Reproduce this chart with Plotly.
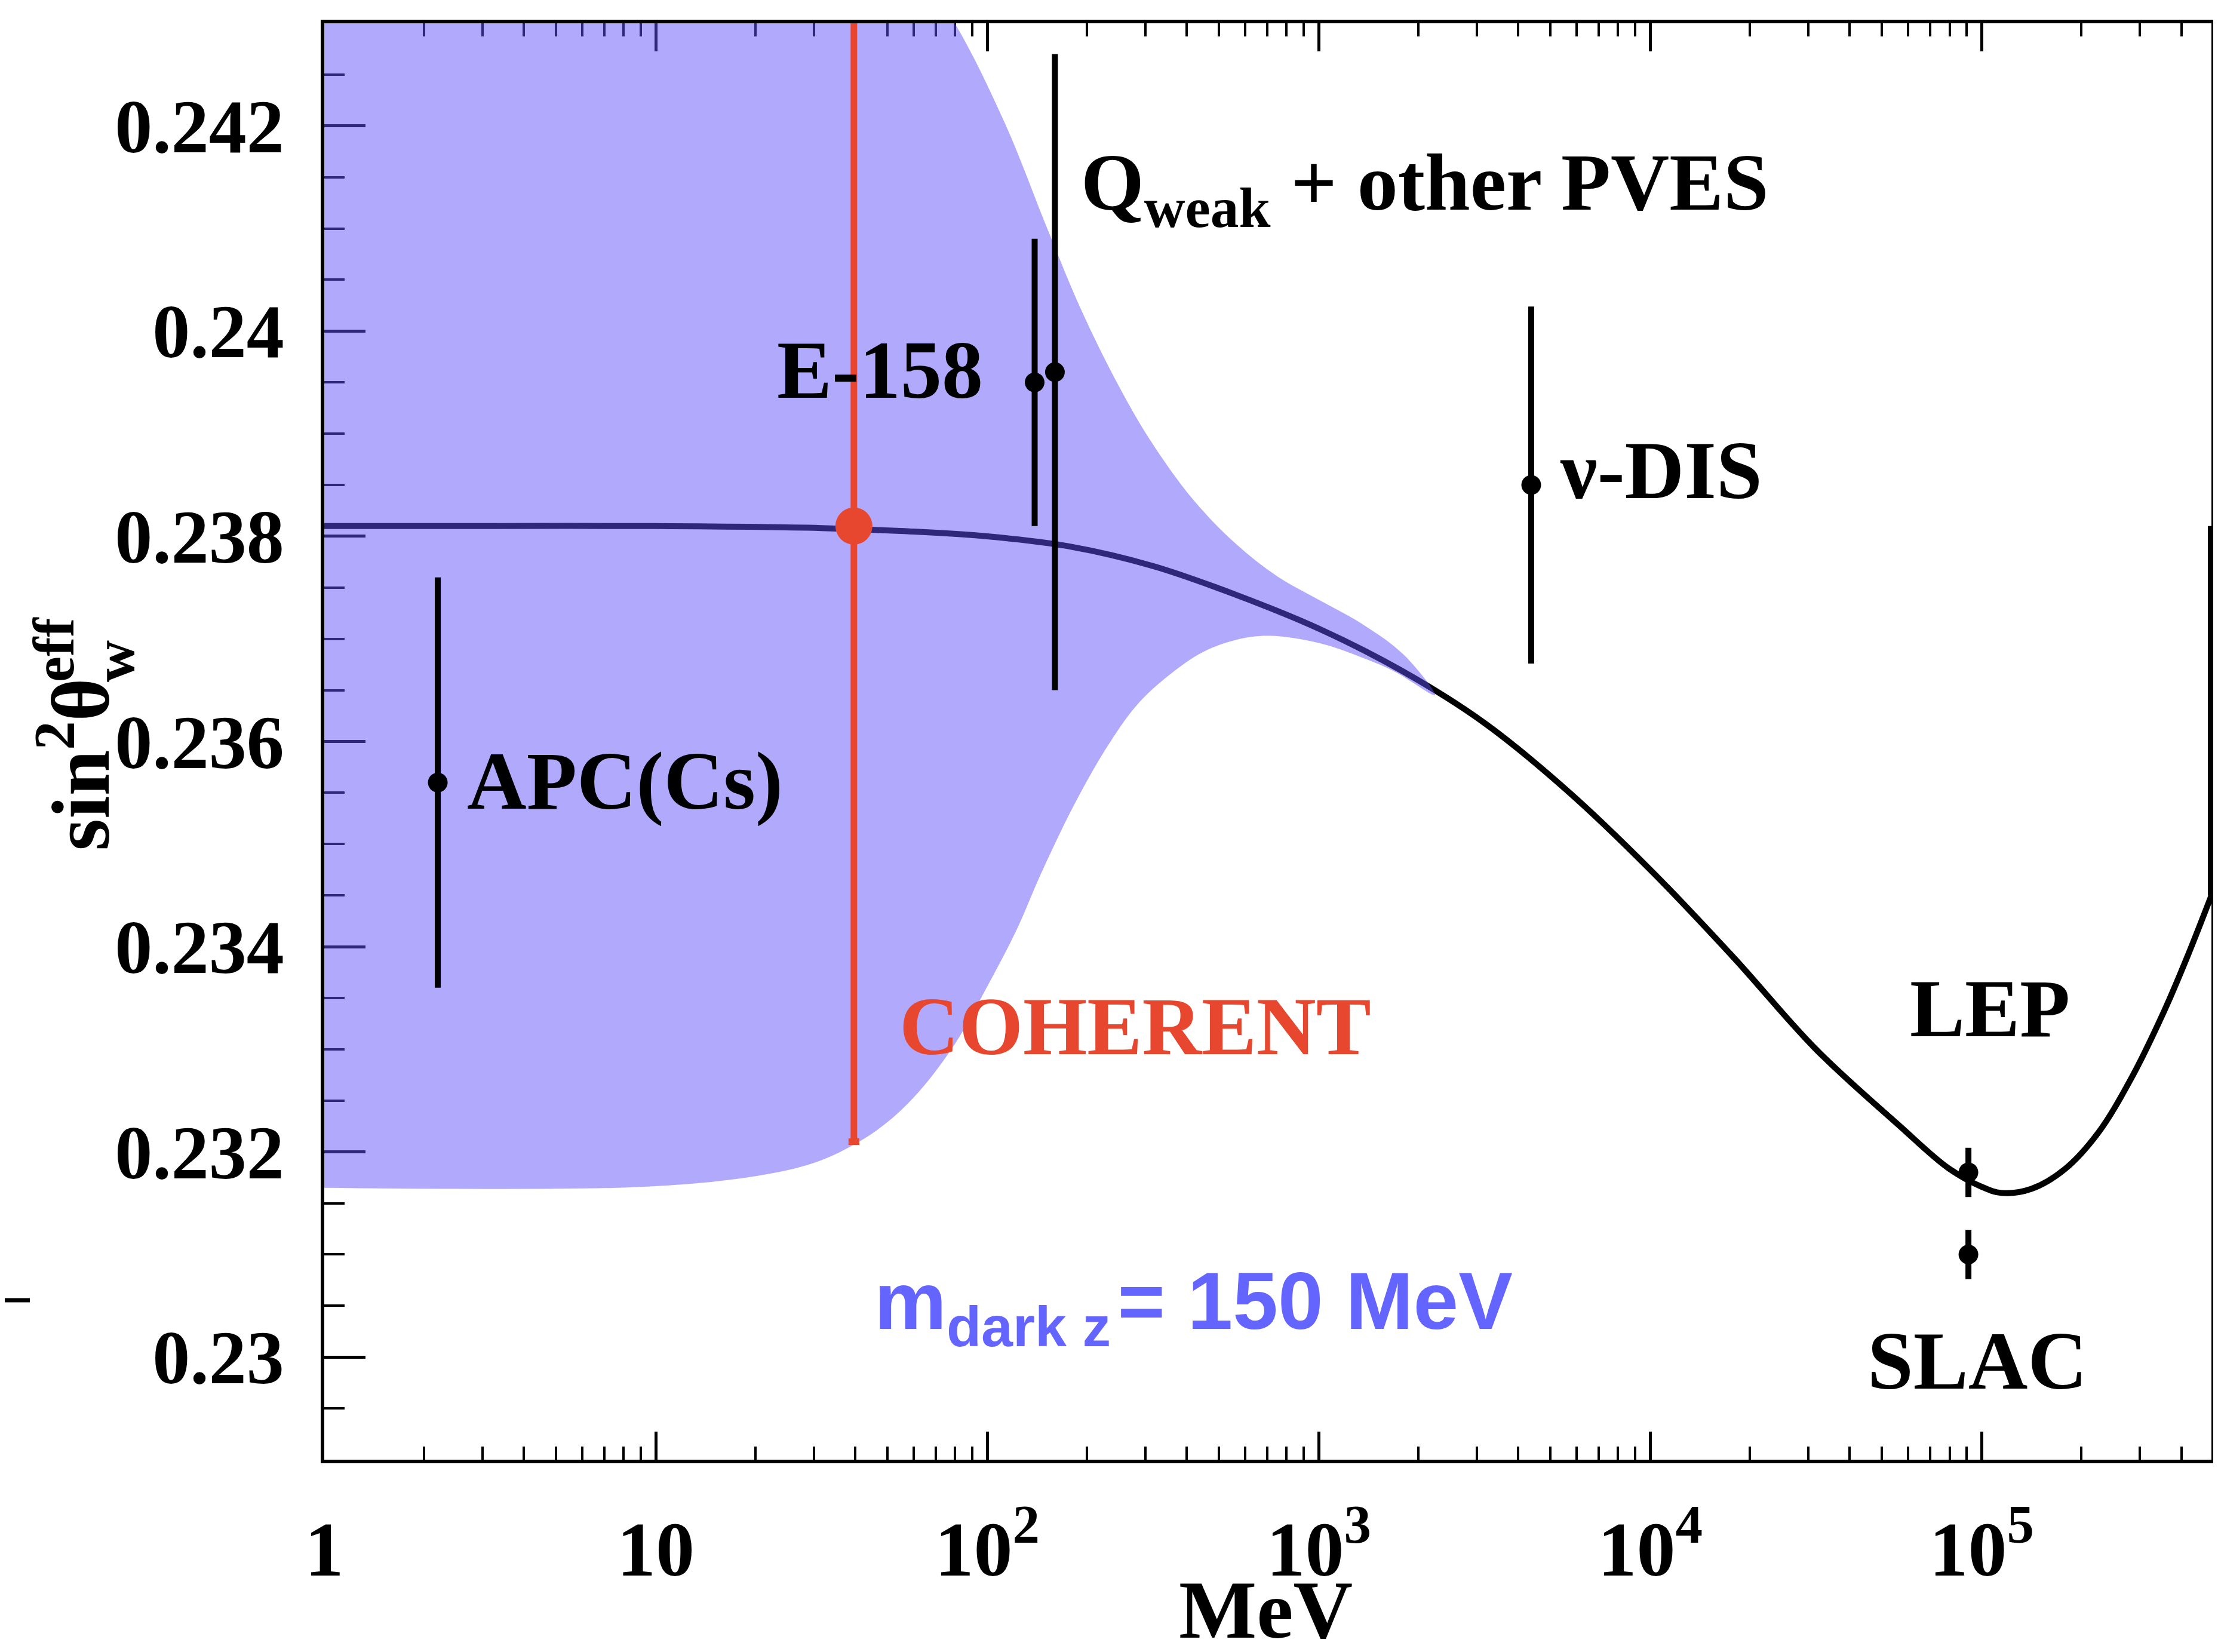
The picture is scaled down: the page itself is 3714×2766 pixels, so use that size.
import plotly.graph_objects as go

# ---------------- canvas / frame ----------------
W, H = 3714, 2766
ML, MR, MT, MB = 535, 19, 31, 330
PW, PH = W - ML - MR, H - MT - MB

X_RANGE_LOG = [0.0, 5.693]
Y_RANGE = [0.229, 0.243]

# ---------------- data ----------------
# Standard-model running of sin^2(theta_W) (x = log10(Q / MeV))
curve_log_q = [0.0, 0.5, 1.0, 1.5, 1.75, 2.0, 2.25, 2.5, 2.75, 3.0, 3.25, 3.5, 3.75, 4.0,
               4.25, 4.5, 4.75, 4.9, 5.0, 5.06, 5.15, 5.25, 5.35, 5.45, 5.55, 5.62, 5.693]
curve_sin2 = [0.2381, 0.2381, 0.2381, 0.23808, 0.23805, 0.238, 0.2379, 0.23771, 0.23743,
              0.2371, 0.23669, 0.23618, 0.23552, 0.23475, 0.2339, 0.233, 0.23226, 0.23184,
              0.23166, 0.2316, 0.23164, 0.23183, 0.23218, 0.23271, 0.23337, 0.2339, 0.2345]
# part of the curve pressed against the right frame (clipped continuation)
edge_sin2 = [0.2345, 0.2381]

# dark-Z (m = 150 MeV) band
band_upper_log_q = [0.0, 1.0, 1.5, 1.75, 1.902, 2.054, 2.181, 2.283, 2.396, 2.497, 2.623,
                    2.749, 2.875, 3.001, 3.129, 3.255, 3.35]
band_upper = [0.2446, 0.2446, 0.2444, 0.2437, 0.2430, 0.24202, 0.241, 0.24021, 0.23947,
              0.23891, 0.23835, 0.23793, 0.23761, 0.23738, 0.23715, 0.23685, 0.23647]
band_lower_log_q = [0.0, 0.966, 1.295, 1.475, 1.598, 1.695, 1.792, 1.902, 1.998, 2.088,
                    2.162, 2.26, 2.358, 2.45, 2.55, 2.65, 2.75, 2.85, 3.0, 3.129, 3.23, 3.35]
band_lower = [0.23165, 0.23166, 0.23176, 0.23189, 0.23207, 0.23228, 0.23258, 0.23305,
              0.2336, 0.23416, 0.23471, 0.23537, 0.23593, 0.23635, 0.23665, 0.23687, 0.23699,
              0.23703, 0.23696, 0.23682, 0.23668, 0.23645]

# measurements
exp_names = ["APC(Cs)", "E-158", "Qweak", "nu-DIS", "LEP", "SLAC"]
exp_q = [2.2, 139, 160, 4375, 91188, 91188]
exp_sin2 = [0.2356, 0.2395, 0.2396, 0.2385, 0.2318, 0.2310]
exp_err = [0.0020, 0.0014, 0.0031, 0.00174, 0.00024, 0.00024]

coh_q = [39.6]
coh_sin2 = [0.2381]
coh_err = [0.0060]

x_tick_vals = [1, 10, 100, 1000, 10000, 100000]
x_tick_text = ["1", "10", "10<sup>2</sup>", "10<sup>3</sup>", "10<sup>4</sup>", "10<sup>5</sup>"]
y_tick_vals = [0.23, 0.232, 0.234, 0.236, 0.238, 0.24, 0.242]
y_tick_text = ["0.23", "0.232", "0.234", "0.236", "0.238", "0.24", "0.242"]

# ---------------- style ----------------
SERIF = "Liberation Serif"
SANS = "Liberation Sans"
RED = "#E8472F"
BLUE_TXT = "#6464FF"
BAND = "rgba(94,80,249,0.49)"


def px(x):
    return (x - ML) / PW


def py(y):
    return (MT + PH - y) / PH


fig = go.Figure()

# SM curve (under the band)
fig.add_trace(go.Scatter(x=[10 ** v for v in curve_log_q], y=curve_sin2, mode="lines",
                         line=dict(color="black", width=10, shape="spline", smoothing=1.0),
                         hoverinfo="skip", showlegend=False))
fig.add_trace(go.Scatter(x=[10 ** X_RANGE_LOG[1]] * 2, y=edge_sin2, mode="lines",
                         line=dict(color="black", width=12), hoverinfo="skip", showlegend=False))

# band
bx = [10 ** v for v in band_upper_log_q] + [10 ** v for v in band_lower_log_q[::-1]]
by = band_upper + band_lower[::-1]
fig.add_trace(go.Scatter(x=bx, y=by, mode="lines", fill="toself", fillcolor=BAND,
                         line=dict(width=0, color="rgba(0,0,0,0)", shape="spline", smoothing=1.0),
                         hoverinfo="skip", showlegend=False))

# measurements
fig.add_trace(go.Scatter(x=exp_q, y=exp_sin2, mode="markers",
                         marker=dict(color="black", size=33),
                         error_y=dict(type="data", array=exp_err, visible=True,
                                      color="black", thickness=10, width=0),
                         text=exp_names, showlegend=False))
fig.add_trace(go.Scatter(x=coh_q, y=coh_sin2, mode="markers",
                         marker=dict(color=RED, size=62),
                         error_y=dict(type="data", array=coh_err, visible=True,
                                      color=RED, thickness=11, width=9),
                         showlegend=False))

# ---------------- texts ----------------
def label(text, x, y, size=138, color="black", family=SERIF, xanchor="left", yanchor="middle",
          angle=0):
    fig.add_annotation(text=text, x=px(x), y=py(y), xref="paper", yref="paper",
                       xanchor=xanchor, yanchor=yanchor, showarrow=False, textangle=angle,
                       font=dict(family=family, size=size, color=color, weight="bold"))


DX = -12
label("Q<sub>weak</sub> + other PVES", 1812 + DX, 308, size=136)
label("E-158", 1303 + DX, 612)
label("ν-DIS", 2614 + DX, 780)
label("APC(Cs)", 784 + DX, 1299)
label("COHERENT", 1508 + DX, 1710, color=RED)
label("LEP", 3200 + DX, 1681)
label("SLAC", 3129 + DX, 2270)
label("m<sub>dark z</sub>\u200a= 150 MeV", 1466 + DX, 2180, size=136, color=BLUE_TXT, family=SANS)
label("MeV", 2111, H, xanchor="center", yanchor="bottom")

# y-axis title pieces (rotated)
label("sin<sup>2</sup>θ", 117, 1418, xanchor="center", yanchor="bottom", angle=-90)
label("w", 183, 1099, size=97, xanchor="center", angle=-90)
label("eff", 82, 1080, size=97, xanchor="center", angle=-90)

# stray dash at the left edge
fig.add_shape(type="line", xref="paper", yref="paper", x0=px(0), x1=px(42),
              y0=py(2169), y1=py(2169), line=dict(color="black", width=7))

fig.update_layout(
    width=W, height=H, margin=dict(l=ML, r=MR, t=MT, b=MB),
    paper_bgcolor="white", plot_bgcolor="white",
    xaxis=dict(type="log", range=X_RANGE_LOG, showgrid=False, zeroline=False,
               showline=True, linecolor="black", linewidth=6, mirror="ticks",
               ticks="inside", ticklen=47, tickwidth=5, tickcolor="black",
               tickvals=x_tick_vals, ticktext=x_tick_text, ticklabelstandoff=32,
               tickfont=dict(family=SERIF, size=130, color="black", weight="bold"),
               minor=dict(ticks="inside", ticklen=22, tickwidth=4, tickcolor="black",
                          dtick="D1", showgrid=False),
               layer="below traces"),
    yaxis=dict(range=Y_RANGE, showgrid=False, zeroline=False,
               showline=True, linecolor="black", linewidth=6, mirror=True,
               ticks="inside", ticklen=69, tickwidth=5, tickcolor="black",
               tickvals=y_tick_vals, ticktext=y_tick_text, ticklabelstandoff=36,
               tickfont=dict(family=SERIF, size=126, color="black", weight="bold"),
               minor=dict(ticks="inside", ticklen=34, tickwidth=4, tickcolor="black",
                          dtick=0.0005, tick0=0.229, showgrid=False),
               layer="below traces"),
)

fig.write_html("out.html")
